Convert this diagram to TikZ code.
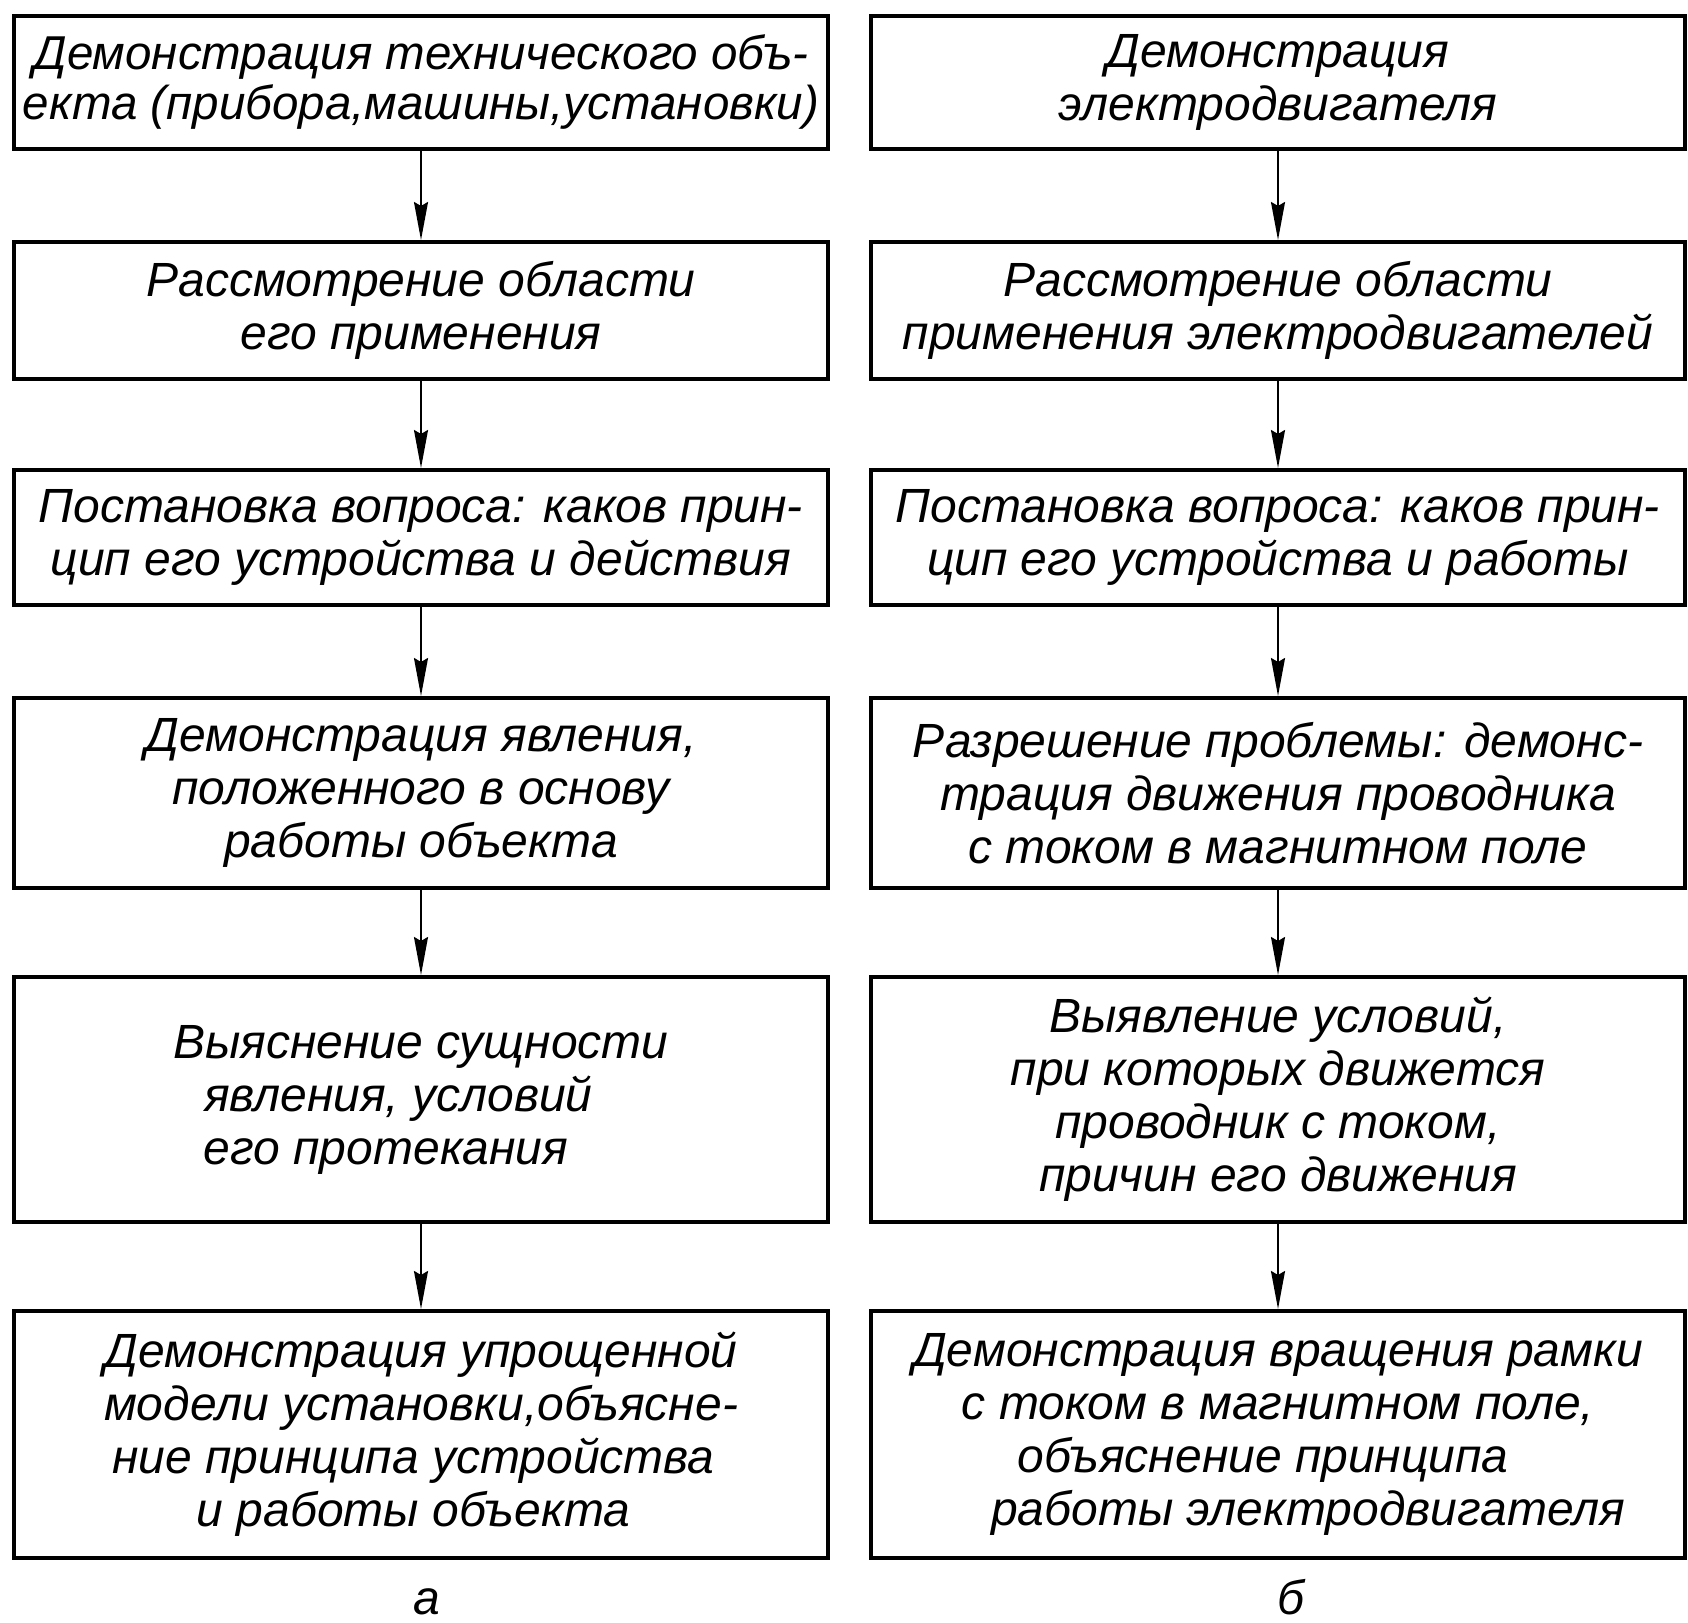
\documentclass[tikz,border=0pt]{standalone}
\usepackage{fontspec}
\setmainfont{Liberation Sans}
\usetikzlibrary{arrows.meta}
\begin{document}
\begin{tikzpicture}[x=1pt,y=1pt,
  box/.style={draw, line width=4pt, rectangle, minimum width=814pt, inner sep=0pt,
    align=center, font=\fontsize{48}{53}\selectfont\itshape},
  conn/.style={line width=2pt, -{Stealth[length=38pt,width=14pt,inset=4pt]}},
  lbl/.style={inner sep=0pt, anchor=base, font=\fontsize{48}{53}\selectfont\itshape}]
\useasboundingbox (0,0) rectangle (1688,1622);
% left column
\node[box, minimum height=133pt, font=\fontsize{47.5}{50}\selectfont\itshape] (L1) at (421,1539.5) {Демонстрация технического объ-\\екта (прибора,машины,установки)};
\node[box, minimum height=137pt] (L2) at (421,1311.5) {Рассмотрение области\\его применения};
\node[box, minimum height=135pt] (L3) at (421,1084.5) {Постановка вопроса: каков прин-\\цип его устройства и действия};
\node[box, minimum height=190pt] (L4) at (421,829) {Демонстрация явления,\\положенного в основу\\работы объекта};
\node[box, minimum height=245pt] (L5) at (421,522.5) {Выяснение сущности\\\hspace*{-45pt}явления, условий\\\hspace*{-70pt}его протекания};
\node[box, minimum height=247pt] (L6) at (421,187.5) {Демонстрация упрощенной\\модели установки,объясне-\\\hspace*{-15pt}ние принципа устройства\\\hspace*{-15pt}и работы объекта};
% right column
\node[box, minimum height=133pt] (R1) at (1278,1539.5) {Демонстрация\\электродвигателя};
\node[box, minimum height=137pt] (R2) at (1278,1311.5) {Рассмотрение области\\применения электродвигателей};
\node[box, minimum height=135pt] (R3) at (1278,1084.5) {Постановка вопроса: каков прин-\\цип его устройства и работы};
\node[box, minimum height=190pt] (R4) at (1278,829) {Разрешение проблемы: демонс-\\трация движения проводника\\с током в магнитном поле};
\node[box, minimum height=245pt] (R5) at (1278,522.5) {Выявление условий,\\при которых движется\\проводник с током,\\причин его движения};
\node[box, minimum height=247pt] (R6) at (1278,187.5) {Демонстрация вращения рамки\\с током в магнитном поле,\\\hspace*{-30pt}объяснение принципа\\\hspace*{60pt}работы электродвигателя};
% labels
\node[lbl] (la) at (427,8) {а};
\node[lbl] (lb) at (1291,8) {б};
% connectors
\foreach \a/\b in {L1/L2,L2/L3,L3/L4,L4/L5,L5/L6,R1/R2,R2/R3,R3/R4,R4/R5,R5/R6}
  \draw[conn] (\a.south) -- (\b.north);
\end{tikzpicture}
\end{document}
